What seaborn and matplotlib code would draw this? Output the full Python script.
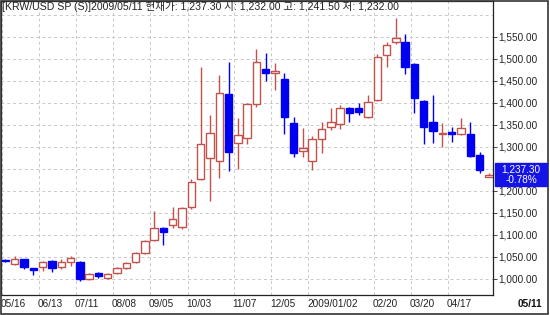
import matplotlib
matplotlib.use("Agg")
import matplotlib.pyplot as plt
import matplotlib.transforms as mtransforms
from matplotlib.patches import Rectangle
import seaborn as sns
import pandas as pd

# ---- data (weekly candles, KRW/USD) ----
opens  = [1043, 1034, 1045, 1025, 1027, 1041, 1027, 1039, 1039, 1001, 1014, 1003, 1013, 1025, 1038, 1059,
          1088, 1116, 1123, 1118, 1164, 1227, 1275, 1268, 1420, 1309, 1320, 1398, 1477, 1468, 1455, 1355,
          1291, 1268, 1318, 1345, 1352, 1389, 1389, 1368, 1407, 1509, 1539, 1539, 1489, 1405, 1357, 1329,
          1333, 1330, 1330, 1282, 1232]
highs  = [1045, 1052, 1046, 1026, 1041, 1043, 1045, 1052, 1041, 1014, 1017, 1014, 1027, 1039, 1062, 1088,
          1155, 1118, 1164, 1163, 1227, 1482, 1373, 1464, 1493, 1366, 1400, 1523, 1514, 1491, 1468, 1368,
          1343, 1325, 1357, 1389, 1395, 1391, 1400, 1418, 1511, 1539, 1593, 1557, 1491, 1407, 1418, 1355,
          1345, 1366, 1357, 1289, 1241.5]
lows   = [1038, 1032, 1022, 1009, 1018, 1016, 1023, 1030, 995, 998, 1003, 1000, 1011, 1023, 1036, 1056,
          1086, 1077, 1116, 1114, 1160, 1225, 1177, 1230, 1245, 1250, 1307, 1391, 1450, 1430, 1330, 1277,
          1277, 1248, 1286, 1339, 1341, 1357, 1373, 1366, 1405, 1482, 1534, 1466, 1377, 1307, 1309, 1300,
          1311, 1327, 1278, 1241, 1232]
closes = [1041, 1045, 1027, 1020, 1039, 1025, 1039, 1048, 1000, 1012, 1007, 1011, 1025, 1036, 1059, 1086,
          1116, 1107, 1136, 1161, 1220, 1307, 1332, 1423, 1289, 1327, 1398, 1493, 1468, 1473, 1368, 1286,
          1298, 1318, 1341, 1357, 1389, 1377, 1380, 1402, 1505, 1532, 1548, 1482, 1411, 1345, 1336, 1331,
          1330, 1343, 1280, 1247, 1237.3]

date_labels = ["05/16", "06/13", "07/11", "08/08", "09/05", "10/03", "11/07", "12/05",
               "2009/01/02", "02/20", "03/20", "04/17"]
date_index = [0, 4, 8, 12, 16, 20, 25, 29, 33, 40, 44, 48]
y_ticks = [1000, 1050, 1100, 1150, 1200, 1300, 1350, 1400, 1450, 1500, 1550]
last_label = "05/11"
title_text = "[KRW/USD SP (S)]2009/05/11 현재가: 1,237.30 시: 1,232.00 고: 1,241.50 저: 1,232.00"
price_text = "1,237.30"
change_text = "-0.78%"

df = pd.DataFrame({"open": opens, "high": highs, "low": lows, "close": closes})
df["idx"] = range(len(df))
df["up"] = df["close"] >= df["open"]

sns.set_theme(style="white")
plt.rcParams["font.family"] = ["Liberation Sans", "Noto Sans CJK KR", "DejaVu Sans"]

W, H = 550, 315
fig = plt.figure(figsize=(W / 100, H / 100), dpi=100)
fig.patch.set_facecolor("white")

def fx(px):
    return px / W

def fy(py):
    return 1 - py / H

ax = fig.add_axes([fx(1), fy(295), fx(492), (295 - 1) / H])
ax.set_facecolor("white")

RED = "#c4524c"
BLUE = "#0000f0"

# wicks
for up, grp in df.groupby("up"):
    ax.vlines(grp["idx"], grp["low"], grp["high"], color=RED if up else BLUE, lw=1, zorder=2)

# bodies
width = 0.8
for _, r in df.iterrows():
    lo = min(r["open"], r["close"])
    h = max(abs(r["close"] - r["open"]), 1.5)
    if r["up"]:
        ax.bar(r["idx"], h, bottom=lo, width=width, facecolor="white", edgecolor=RED, lw=1, zorder=3)
    else:
        ax.bar(r["idx"], h, bottom=lo, width=width, facecolor=BLUE, edgecolor=BLUE, lw=1, zorder=3)

ax.set_xlim(-0.48, 52.45)
ax.set_ylim(963.6, 1631.8)

# grid
for v in range(1000, 1651, 50):
    ax.axhline(v, color="#c8c8c8", lw=0.7, ls=(0, (3, 3)), zorder=0)
for i in date_index:
    ax.axvline(i - 0.4, color="#c8c8c8", lw=0.7, ls=(0, (3, 3)), zorder=0)

ax.set_xticks([])
ax.yaxis.tick_right()
ax.set_yticks(y_ticks)
ax.set_yticklabels([f"{v:,.2f}" for v in y_ticks], fontsize=7.2, color="#222222")
ax.tick_params(axis="y", which="both", right=True, length=3, width=0.7, pad=1, color="#444444")
for s in ax.spines.values():
    s.set_color("#222222")
    s.set_linewidth(0.9)

# x labels
trans = mtransforms.blended_transform_factory(ax.transData, fig.transFigure)
for i, lab in zip(date_index, date_labels):
    ax.text(i - 0.55, fy(304), lab, transform=trans, ha="left", va="center",
            fontsize=7.2, color="#222222", clip_on=False)
fig.text(fx(530), fy(304), last_label, ha="center", va="center", fontsize=7.2,
         fontweight="bold", color="#111111")

# title
fig.text(fx(2), fy(7), title_text, ha="left", va="center", fontsize=7.6, color="#222222")

# price box
fig.add_artist(Rectangle((fx(495), fy(186)), fx(52), (186 - 163) / H, transform=fig.transFigure,
                         facecolor="#1414e6", edgecolor="#1414e6", zorder=5))
fig.text(fx(521), fy(169), price_text, ha="center", va="center", fontsize=7.2, color="white", zorder=6)
fig.text(fx(521), fy(180), change_text, ha="center", va="center", fontsize=7.2, color="white", zorder=6)

# outer border
fig.add_artist(Rectangle((0.001, 0.002), 0.996, 0.994, transform=fig.transFigure,
                         fill=False, edgecolor="#333333", lw=1.2))

fig.savefig("out.png", dpi=100)
